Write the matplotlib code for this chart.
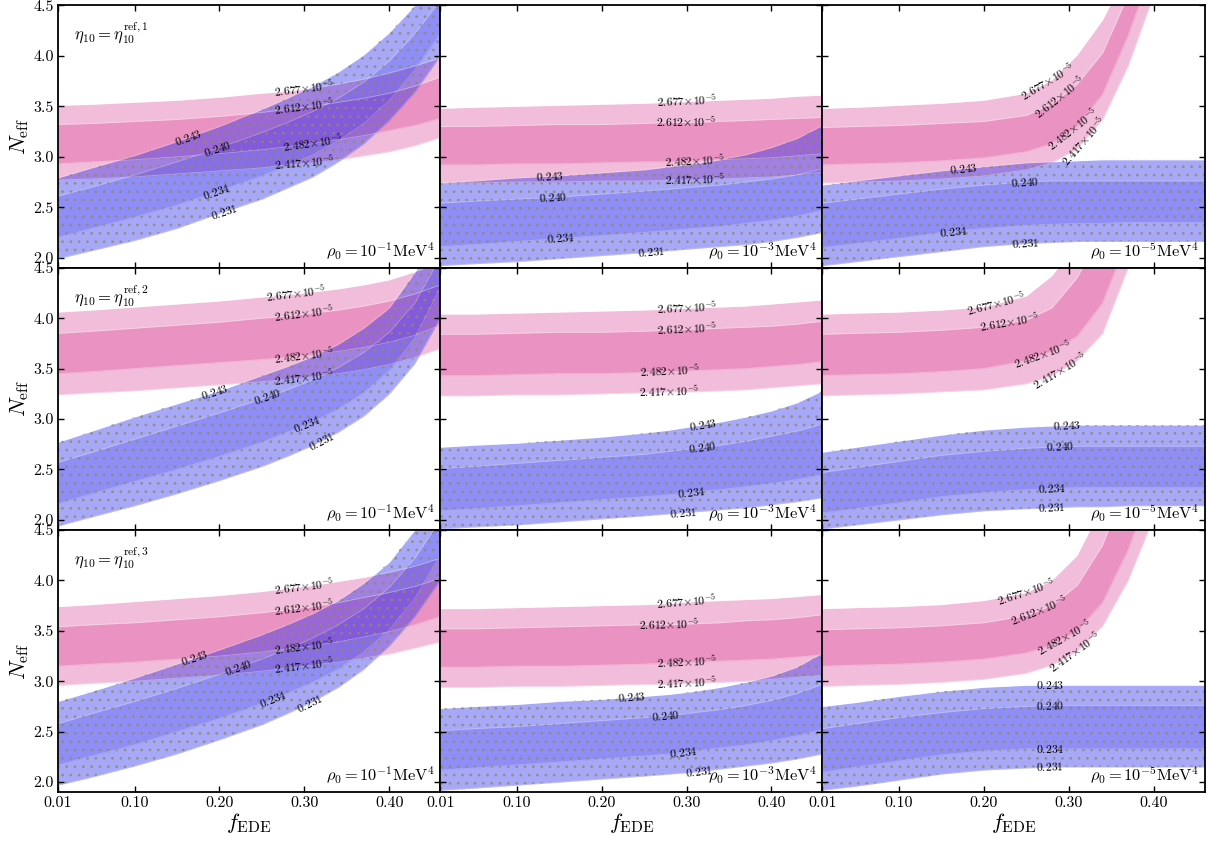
import numpy as np
import matplotlib.pyplot as plt

plt.rcParams['mathtext.fontset'] = 'cm'
plt.rcParams['font.family'] = 'serif'
plt.rcParams['font.serif'] = ['cmr10', 'DejaVu Serif']
plt.rcParams['axes.unicode_minus'] = False
plt.rcParams['hatch.linewidth'] = 0.8

# f_EDE sample points shared by every curve
f_ede = [0.01, 0.05, 0.10, 0.15, 0.20, 0.25, 0.28, 0.31, 0.34, 0.37, 0.40, 0.43, 0.46]

dh_levels = ['2.677', '2.612', '2.482', '2.417']   # D/H x 1e5
yp_levels = ['0.243', '0.240', '0.234', '0.231']   # Y_p
eta_tags = ['ref,1', 'ref,2', 'ref,3']
rho_exps = ['-1', '-3', '-5']

# N_eff along each D/H contour (rows: 2.677, 2.612, 2.482, 2.417)
dh_11 = [[3.51, 3.52, 3.54, 3.56, 3.59, 3.63, 3.65, 3.68, 3.72, 3.77, 3.83, 3.90, 3.98],
         [3.32, 3.33, 3.35, 3.37, 3.40, 3.44, 3.47, 3.50, 3.54, 3.58, 3.63, 3.70, 3.79],
         [2.93, 2.95, 2.97, 3.00, 3.03, 3.07, 3.10, 3.13, 3.17, 3.21, 3.26, 3.31, 3.38],
         [2.77, 2.78, 2.80, 2.83, 2.86, 2.89, 2.92, 2.94, 2.97, 3.01, 3.05, 3.11, 3.19]]
dh_12 = [[3.48, 3.49, 3.50, 3.51, 3.52, 3.53, 3.54, 3.55, 3.56, 3.57, 3.58, 3.60, 3.61],
         [3.30, 3.30, 3.31, 3.32, 3.32, 3.33, 3.34, 3.34, 3.35, 3.36, 3.37, 3.38, 3.39],
         [2.92, 2.92, 2.93, 2.93, 2.94, 2.95, 2.95, 2.96, 2.97, 2.98, 2.99, 3.01, 3.03],
         [2.74, 2.74, 2.75, 2.75, 2.76, 2.76, 2.77, 2.77, 2.78, 2.79, 2.80, 2.82, 2.85]]
dh_13 = [[3.48, 3.49, 3.51, 3.53, 3.56, 3.63, 3.76, 4.01, 4.36, 4.85, 5.40, 6.00, 6.60],
         [3.29, 3.30, 3.31, 3.33, 3.35, 3.41, 3.52, 3.72, 4.03, 4.60, 5.20, 5.80, 6.40],
         [2.92, 2.93, 2.94, 2.96, 2.99, 3.05, 3.13, 3.30, 3.62, 4.20, 4.90, 5.60, 6.30],
         [2.74, 2.75, 2.76, 2.78, 2.81, 2.87, 2.94, 3.08, 3.37, 3.90, 4.60, 5.30, 6.00]]
dh_21 = [[4.06, 4.08, 4.11, 4.14, 4.17, 4.21, 4.23, 4.26, 4.29, 4.33, 4.38, 4.46, 4.55],
         [3.85, 3.87, 3.90, 3.93, 3.96, 4.00, 4.02, 4.05, 4.08, 4.12, 4.17, 4.24, 4.33],
         [3.45, 3.47, 3.50, 3.53, 3.56, 3.59, 3.61, 3.64, 3.67, 3.71, 3.76, 3.83, 3.93],
         [3.24, 3.26, 3.28, 3.31, 3.34, 3.37, 3.39, 3.42, 3.45, 3.49, 3.54, 3.61, 3.70]]
dh_22 = [[4.04, 4.04, 4.05, 4.06, 4.07, 4.08, 4.09, 4.10, 4.11, 4.12, 4.14, 4.16, 4.18],
         [3.84, 3.84, 3.85, 3.86, 3.86, 3.87, 3.88, 3.89, 3.90, 3.91, 3.92, 3.94, 3.97],
         [3.43, 3.43, 3.44, 3.45, 3.45, 3.46, 3.47, 3.48, 3.49, 3.50, 3.52, 3.54, 3.57],
         [3.23, 3.23, 3.24, 3.24, 3.25, 3.26, 3.27, 3.27, 3.28, 3.29, 3.31, 3.33, 3.35]]
dh_23 = [[4.04, 4.05, 4.06, 4.08, 4.11, 4.22, 4.42, 4.75, 5.10, 5.50, 5.90, 6.30, 6.70],
         [3.84, 3.85, 3.86, 3.88, 3.91, 3.98, 4.10, 4.40, 4.90, 5.40, 5.90, 6.40, 6.90],
         [3.43, 3.44, 3.45, 3.47, 3.50, 3.58, 3.67, 3.82, 4.15, 4.80, 5.40, 6.00, 6.60],
         [3.23, 3.24, 3.25, 3.27, 3.29, 3.35, 3.43, 3.58, 3.85, 4.50, 5.10, 5.70, 6.30]]
dh_31 = [[3.74, 3.76, 3.79, 3.82, 3.85, 3.89, 3.92, 3.95, 3.99, 4.03, 4.08, 4.14, 4.22],
         [3.54, 3.56, 3.58, 3.61, 3.64, 3.68, 3.71, 3.74, 3.78, 3.83, 3.88, 3.94, 4.02],
         [3.15, 3.17, 3.19, 3.22, 3.25, 3.29, 3.32, 3.35, 3.39, 3.44, 3.49, 3.56, 3.64],
         [2.96, 2.98, 3.00, 3.03, 3.06, 3.10, 3.13, 3.16, 3.19, 3.23, 3.27, 3.33, 3.39]]
dh_32 = [[3.72, 3.72, 3.73, 3.74, 3.75, 3.76, 3.77, 3.79, 3.80, 3.81, 3.82, 3.84, 3.86],
         [3.52, 3.52, 3.53, 3.54, 3.55, 3.56, 3.56, 3.57, 3.58, 3.60, 3.61, 3.63, 3.66],
         [3.14, 3.14, 3.15, 3.15, 3.16, 3.17, 3.18, 3.19, 3.20, 3.21, 3.22, 3.24, 3.26],
         [2.94, 2.94, 2.95, 2.95, 2.96, 2.97, 2.97, 2.98, 2.99, 3.00, 3.02, 3.04, 3.06]]
dh_33 = [[3.72, 3.73, 3.74, 3.76, 3.80, 3.88, 4.00, 4.25, 4.75, 5.40, 6.00, 6.60, 7.20],
         [3.51, 3.52, 3.53, 3.55, 3.58, 3.65, 3.75, 3.95, 4.35, 5.00, 5.60, 6.20, 6.80],
         [3.15, 3.16, 3.17, 3.19, 3.22, 3.28, 3.36, 3.50, 3.78, 4.30, 5.00, 5.70, 6.40],
         [2.95, 2.96, 2.97, 2.99, 3.02, 3.08, 3.16, 3.30, 3.55, 4.00, 4.62, 5.30, 6.00]]

# N_eff along each Y_p contour (rows: 0.243, 0.240, 0.234, 0.231)
yp_11 = [[2.79, 2.89, 3.01, 3.15, 3.30, 3.47, 3.58, 3.70, 3.84, 4.01, 4.23, 4.50, 4.85],
         [2.61, 2.70, 2.82, 2.95, 3.09, 3.24, 3.34, 3.45, 3.58, 3.74, 3.95, 4.22, 4.55],
         [2.20, 2.29, 2.40, 2.52, 2.66, 2.81, 2.91, 3.02, 3.16, 3.33, 3.56, 3.86, 4.22],
         [1.99, 2.07, 2.17, 2.29, 2.44, 2.58, 2.69, 2.80, 2.95, 3.13, 3.36, 3.64, 4.00]]
yp_12 = [[2.74, 2.76, 2.79, 2.81, 2.84, 2.87, 2.90, 2.93, 2.97, 3.02, 3.09, 3.18, 3.31],
         [2.54, 2.56, 2.58, 2.60, 2.63, 2.66, 2.68, 2.70, 2.72, 2.75, 2.78, 2.82, 2.88],
         [2.11, 2.13, 2.16, 2.19, 2.22, 2.25, 2.27, 2.29, 2.31, 2.34, 2.37, 2.41, 2.47],
         [1.92, 1.94, 1.96, 1.99, 2.02, 2.05, 2.07, 2.09, 2.11, 2.13, 2.16, 2.20, 2.25]]
yp_13 = [[2.72, 2.76, 2.81, 2.86, 2.90, 2.94, 2.95, 2.96, 2.97, 2.97, 2.97, 2.97, 2.97],
         [2.54, 2.58, 2.63, 2.68, 2.72, 2.75, 2.76, 2.76, 2.76, 2.76, 2.76, 2.76, 2.76],
         [2.10, 2.14, 2.19, 2.25, 2.29, 2.32, 2.33, 2.34, 2.34, 2.35, 2.35, 2.35, 2.35],
         [1.92, 1.96, 2.01, 2.06, 2.11, 2.14, 2.15, 2.16, 2.16, 2.16, 2.16, 2.16, 2.16]]
yp_21 = [[2.77, 2.88, 3.02, 3.15, 3.28, 3.43, 3.52, 3.62, 3.74, 3.90, 4.10, 4.45, 4.90],
         [2.57, 2.67, 2.80, 2.93, 3.06, 3.20, 3.29, 3.39, 3.51, 3.66, 3.86, 4.15, 4.60],
         [2.16, 2.26, 2.38, 2.50, 2.63, 2.77, 2.87, 2.97, 3.10, 3.26, 3.48, 3.80, 4.30],
         [1.94, 2.03, 2.14, 2.26, 2.39, 2.53, 2.63, 2.74, 2.87, 3.03, 3.25, 3.55, 4.00]]
yp_22 = [[2.72, 2.74, 2.76, 2.79, 2.82, 2.86, 2.89, 2.93, 2.97, 3.02, 3.08, 3.16, 3.28],
         [2.51, 2.53, 2.56, 2.59, 2.62, 2.65, 2.68, 2.71, 2.74, 2.78, 2.83, 2.88, 2.95],
         [2.09, 2.11, 2.14, 2.17, 2.20, 2.23, 2.25, 2.28, 2.30, 2.33, 2.36, 2.40, 2.45],
         [1.91, 1.93, 1.95, 1.98, 2.01, 2.04, 2.06, 2.08, 2.10, 2.12, 2.15, 2.18, 2.22]]
yp_23 = [[2.67, 2.72, 2.78, 2.84, 2.89, 2.92, 2.93, 2.94, 2.94, 2.94, 2.94, 2.94, 2.94],
         [2.47, 2.52, 2.58, 2.64, 2.68, 2.71, 2.72, 2.73, 2.73, 2.73, 2.73, 2.73, 2.73],
         [2.07, 2.11, 2.17, 2.23, 2.27, 2.30, 2.31, 2.32, 2.32, 2.32, 2.32, 2.32, 2.32],
         [1.91, 1.95, 2.00, 2.05, 2.09, 2.11, 2.12, 2.13, 2.13, 2.14, 2.14, 2.14, 2.14]]
yp_31 = [[2.80, 2.90, 3.03, 3.17, 3.31, 3.46, 3.56, 3.67, 3.80, 3.97, 4.18, 4.50, 4.90],
         [2.58, 2.68, 2.80, 2.93, 3.07, 3.22, 3.32, 3.43, 3.56, 3.72, 3.93, 4.22, 4.60],
         [2.17, 2.26, 2.37, 2.50, 2.63, 2.78, 2.88, 2.99, 3.12, 3.29, 3.51, 3.82, 4.25],
         [1.97, 2.05, 2.16, 2.28, 2.42, 2.57, 2.68, 2.80, 2.94, 3.12, 3.35, 3.64, 4.00]]
yp_32 = [[2.73, 2.75, 2.77, 2.80, 2.82, 2.85, 2.87, 2.90, 2.94, 2.99, 3.05, 3.14, 3.28],
         [2.51, 2.53, 2.55, 2.58, 2.61, 2.64, 2.66, 2.69, 2.72, 2.76, 2.81, 2.88, 2.97],
         [2.12, 2.14, 2.17, 2.20, 2.23, 2.26, 2.28, 2.31, 2.34, 2.37, 2.41, 2.46, 2.52],
         [1.92, 1.94, 1.97, 2.00, 2.03, 2.06, 2.08, 2.10, 2.13, 2.16, 2.19, 2.23, 2.28]]
yp_33 = [[2.75, 2.79, 2.85, 2.90, 2.94, 2.96, 2.96, 2.96, 2.96, 2.96, 2.96, 2.96, 2.96],
         [2.53, 2.58, 2.64, 2.69, 2.73, 2.75, 2.76, 2.76, 2.76, 2.76, 2.76, 2.76, 2.76],
         [2.10, 2.15, 2.21, 2.27, 2.31, 2.33, 2.33, 2.33, 2.33, 2.33, 2.33, 2.33, 2.33],
         [1.92, 1.96, 2.02, 2.08, 2.12, 2.14, 2.15, 2.15, 2.15, 2.15, 2.15, 2.15, 2.15]]

dh_grid = [[dh_11, dh_12, dh_13], [dh_21, dh_22, dh_23], [dh_31, dh_32, dh_33]]
yp_grid = [[yp_11, yp_12, yp_13], [yp_21, yp_22, yp_23], [yp_31, yp_32, yp_33]]

# where the contour labels sit along f_EDE (per panel, per level)
dh_lab_x = [[[0.30, 0.30, 0.31, 0.30], [0.30, 0.30, 0.31, 0.31], [0.275, 0.29, 0.305, 0.318]],
            [[0.29, 0.30, 0.30, 0.30], [0.30, 0.30, 0.28, 0.28], [0.215, 0.23, 0.27, 0.29]],
            [[0.30, 0.30, 0.30, 0.30], [0.30, 0.28, 0.30, 0.30], [0.25, 0.265, 0.295, 0.308]]]
yp_lab_x = [[[0.163, 0.198, 0.197, 0.206], [0.139, 0.143, 0.152, 0.259], [0.176, 0.249, 0.165, 0.249]],
            [[0.195, 0.257, 0.303, 0.32], [0.319, 0.319, 0.306, 0.296], [0.298, 0.29, 0.28, 0.28]],
            [[0.171, 0.222, 0.263, 0.306], [0.236, 0.276, 0.296, 0.315], [0.278, 0.278, 0.278, 0.278]]]

PINK = '#dc4a9b'
BLUE = '#2626ee'
DOT = '#8c8c6e'


def curve_label(ax, xs, ys, x0, text):
    y0 = np.interp(x0, xs, ys)
    d = 0.008
    p1 = ax.transData.transform((x0 - d, np.interp(x0 - d, xs, ys)))
    p2 = ax.transData.transform((x0 + d, np.interp(x0 + d, xs, ys)))
    ang = np.degrees(np.arctan2(p2[1] - p1[1], p2[0] - p1[0]))
    ax.text(x0, y0, text, rotation=ang, rotation_mode='anchor',
            ha='center', va='center', fontsize=8.5, zorder=5)


fig, axes = plt.subplots(3, 3, figsize=(12.1, 8.41), dpi=100)
fig.subplots_adjust(left=0.048, right=0.9955, top=0.9935, bottom=0.058,
                    hspace=0, wspace=0)

x = np.array(f_ede)
for r in range(3):
    for c in range(3):
        ax = axes[r][c]
        ax.set_xlim(0.01, 0.46)
        ax.set_ylim(1.9, 4.5)
        dh = np.array(dh_grid[r][c])
        yp = np.array(yp_grid[r][c])

        ax.fill_between(x, dh[3], dh[0], color=PINK, alpha=0.36, lw=0)
        ax.fill_between(x, dh[2], dh[1], color=PINK, alpha=0.36, lw=0)
        ax.fill_between(x, yp[3], yp[0], color=BLUE, alpha=0.40, lw=0)
        ax.fill_between(x, yp[2], yp[1], color=BLUE, alpha=0.2, lw=0)
        ax.fill_between(x, yp[3], yp[0], facecolor='none', edgecolor=DOT,
                        hatch='..', lw=0, alpha=0.75)
        # faint seams along the contour boundaries
        for k in range(4):
            ax.plot(x, dh[k], color='white', lw=0.6, alpha=0.35)
            ax.plot(x, yp[k], color='white', lw=0.6, alpha=0.25)

        for k in range(4):
            curve_label(ax, x, dh[k], dh_lab_x[r][c][k],
                        r'$%s{\times}10^{-5}$' % dh_levels[k])
            curve_label(ax, x, yp[k], yp_lab_x[r][c][k],
                        r'$%s$' % yp_levels[k])

        if c == 0:
            ax.text(0.042, 0.895, r'$\eta_{10} = \eta_{10}^{\rm %s}$' % eta_tags[r],
                    transform=ax.transAxes, fontsize=12, ha='left', va='center')
        ax.text(0.986, 0.022, r'$\rho_0 = 10^{%s}{\rm MeV}^4$' % rho_exps[c],
                transform=ax.transAxes, fontsize=11.8, ha='right', va='bottom')

        ax.set_xticks([0.01, 0.10, 0.20, 0.30, 0.40])
        ax.set_yticks([2.0, 2.5, 3.0, 3.5, 4.0, 4.5])
        if r == 2:
            ax.set_xticklabels(['0.01', '0.10', '0.20', '0.30', '0.40'])
            ax.set_xlabel(r'$f_{\rm EDE}$', fontsize=16, labelpad=1)
        else:
            ax.set_xticklabels([])
        if c == 0:
            ax.set_yticklabels(['2.0', '2.5', '3.0', '3.5', '4.0', '4.5'])
            ax.set_ylabel(r'$N_{\rm eff}$', fontsize=16, labelpad=2)
        else:
            ax.set_yticklabels([])
        ax.tick_params(direction='in', top=True, right=True, length=4,
                       width=1, labelsize=11.5, pad=3)
        for s in ax.spines.values():
            s.set_linewidth(1.3)

fig.savefig('out.png', dpi=100)
